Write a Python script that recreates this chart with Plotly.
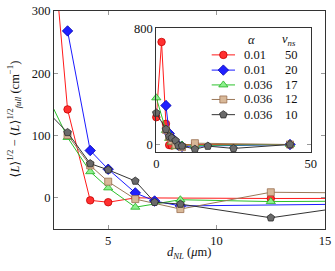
import plotly.graph_objects as go

# ---------------- data ----------------
series_alpha = ["0.01", "0.01", "0.036", "0.036", "0.036"]
series_vns = ["50", "20", "17", "12", "10"]

red_x = [0, 1.7, 3.125, 4.17, 5.0, 6.25, 12.5, 43.3]
red_y = [188, 705, 142, -4, -7, 0, -1, 0]

blue_x = [3.125, 4.17, 5.0, 6.25, 7.14, 8.33, 43.3]
blue_y = [268, 76, 46, 8, -5, -13, 0]

green_x = [0, 3.125, 4.17, 5.0, 6.25, 8.33, 12.5, 43.3]
green_y = [321, 97, 42, 16, -15, -3, -6, 0]

brown_x = [3.125, 4.17, 5.0, 6.25, 8.33, 12.5, 43.3]
brown_y = [101, 52, 26, -2, -18, 9, 0]

gray_x = [0, 3.125, 4.17, 5.0, 6.25, 7.14, 8.33, 12.5, 16.7, 25, 43.3]
gray_y = [217, 105, 55, 45, 27, -7, -10, -32, -11, -27, 0]

main_xticks = [5, 10, 15]
main_yticks = [0, 100, 200, 300]
inset_xticks = [0, 50]
inset_yticks = [0, 800]

# ---------------- styles ----------------
styles = [
    dict(line="#ff1a1a", fill="#ff3030", edge="#c80000", symbol="circle", size=7.5),
    dict(line="#1a1aff", fill="#2020ff", edge="#0000b0", symbol="diamond", size=8),
    dict(line="#2cc22c", fill="#8cf08c", edge="#20b020", symbol="triangle-up", size=8),
    dict(line="#9a7858", fill="#d8b898", edge="#9a7050", symbol="square", size=7),
    dict(line="#333333", fill="#6a6a6a", edge="#2a2a2a", symbol="pentagon", size=8),
]
data = [(red_x, red_y), (blue_x, blue_y), (green_x, green_y), (brown_x, brown_y), (gray_x, gray_y)]

W, H = 335, 271
ML, MR, MT0, MB0 = 54, 10, 8, 38
PW, PH = W - ML - MR, H - MT0 - MB0
VSHIFT = 4  # compensate page offset
FONT = "Liberation Serif, DejaVu Serif, serif"


def pxx(px):
    return (px - ML) / PW


def pxy(py):
    return (H - MB0 - py) / PH


fig = go.Figure()

for (xs, ys), st in zip(data, styles):
    mk = dict(symbol=st["symbol"], size=st["size"], color=st["fill"],
              line=dict(color=st["edge"], width=0.8))
    fig.add_trace(go.Scatter(x=xs, y=ys, mode="lines+markers", xaxis="x", yaxis="y",
                             line=dict(color=st["line"], width=1), marker=mk,
                             showlegend=False, hoverinfo="skip"))
for (xs, ys), st in zip(data, styles):
    mk = dict(symbol=st["symbol"], size=st["size"], color=st["fill"],
              line=dict(color=st["edge"], width=0.8))
    fig.add_trace(go.Scatter(x=xs, y=ys, mode="lines+markers", xaxis="x2", yaxis="y2",
                             line=dict(color=st["line"], width=1), marker=mk,
                             cliponaxis=False, showlegend=False, hoverinfo="skip"))

# ---------------- custom legend (in pixel-mapped helper axes) ----------------
leg_rows = [53.3, 69, 84.3, 99.3, 115]
leg_line_x0, leg_line_x1 = 211.7, 235
TXT = dict(family=FONT, size=12.5, color="#111")
annotations = []
for st, ry, a, v in zip(styles, leg_rows, series_alpha, series_vns):
    fig.add_trace(go.Scatter(x=[leg_line_x0, leg_line_x1], y=[ry, ry], mode="lines",
                             xaxis="x3", yaxis="y3", line=dict(color=st["line"], width=1),
                             showlegend=False, hoverinfo="skip"))
    fig.add_trace(go.Scatter(x=[(leg_line_x0 + leg_line_x1) / 2], y=[ry], mode="markers",
                             xaxis="x3", yaxis="y3",
                             marker=dict(symbol=st["symbol"], size=st["size"], color=st["fill"],
                                         line=dict(color=st["edge"], width=0.8)),
                             showlegend=False, hoverinfo="skip"))
    annotations.append(dict(x=241.5, y=ry, xref="x3", yref="y3", text=a, showarrow=False,
                            xanchor="left", yanchor="middle", font=TXT))
    annotations.append(dict(x=283, y=ry, xref="x3", yref="y3", text=v, showarrow=False,
                            xanchor="left", yanchor="middle", font=TXT))
annotations.append(dict(x=251.7, y=38, xref="x3", yref="y3", text="<i>α</i>", showarrow=False,
                        xanchor="center", yanchor="middle", font=TXT))
annotations.append(dict(x=289, y=38, xref="x3", yref="y3", text="<i>v</i><sub><i>ns</i></sub>",
                        showarrow=False, xanchor="center", yanchor="middle", font=TXT))

# axis titles
annotations.append(dict(x=pxx(189), y=pxy(258), xref="paper", yref="paper",
                        text="<i>d</i><sub><i>NL</i></sub> (<i>μ</i>m)", showarrow=False,
                        xanchor="center", yanchor="middle", font=TXT))
annotations.append(dict(x=pxx(14), y=pxy(120), xref="paper", yref="paper", textangle=-90,
                        text="⟨<i>L</i>⟩<sup>1/2</sup> − ⟨<i>L</i>⟩<sup>1/2</sup><sub><i>full</i></sub> (cm<sup>−1</sup>)",
                        showarrow=False, xanchor="center", yanchor="middle", font=TXT))

axis_common = dict(showline=True, linecolor="#333", linewidth=1, mirror="ticks", ticks="inside",
                   ticklen=4, tickcolor="#999", tickwidth=1, showgrid=False, zeroline=False,
                   tickfont=TXT)

fig.update_layout(
    width=W, height=H,
    margin=dict(l=ML, r=MR, t=MT0 - VSHIFT, b=MB0 + VSHIFT),
    paper_bgcolor="white", plot_bgcolor="white",
    showlegend=False,
    font=dict(family=FONT),
    xaxis=dict(domain=[0, 1], range=[2.5, 15], tickvals=main_xticks, anchor="y", **axis_common),
    yaxis=dict(domain=[0, 1], range=[-50, 300], tickvals=main_yticks, anchor="x", **axis_common),
    xaxis2=dict(domain=[pxx(156.3), pxx(310.7)], range=[0, 50], tickvals=inset_xticks, anchor="y2",
                **axis_common),
    yaxis2=dict(domain=[pxy(153.3), pxy(25.7)], range=[-50, 800], tickvals=inset_yticks, anchor="x2",
                **axis_common),
    xaxis3=dict(domain=[pxx(200), pxx(308)], range=[200, 308], visible=False, anchor="y3"),
    yaxis3=dict(domain=[pxy(122), pxy(28)], range=[122, 28], visible=False, anchor="x3"),
    annotations=annotations,
)

fig.write_html("out.html", config={"displayModeBar": False},
               post_script="document.body.style.margin='0';document.body.style.padding='0';")
